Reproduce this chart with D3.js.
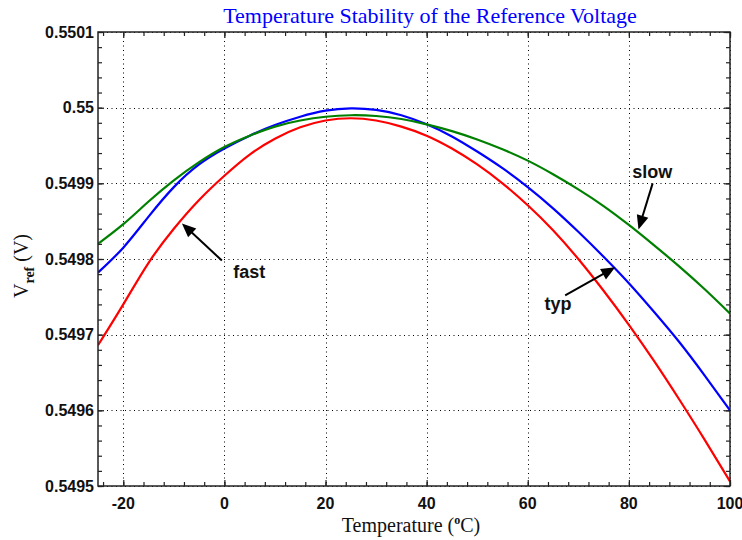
<!DOCTYPE html>
<html><head><meta charset="utf-8">
<script src="https://cdn.jsdelivr.net/npm/d3@7"></script>
<style>
html,body{margin:0;padding:0;background:#fff;}
svg{display:block;}
</style></head>
<body>
<svg id="chart" width="742" height="540"></svg>
<script>
// ---- data ----
const temperatures = [-25,-20,-15,-10,-5,0,5,10,15,20,25,30,35,40,45,50,55,60,65,70,75,80,85,90,95,100];
const fastValues = [0.549686,0.549740,0.549795,0.549840,0.549878,0.549910,0.549938,0.549959,0.549974,0.549983,0.549986,0.549983,0.549975,0.549963,0.549946,0.549925,0.549900,0.549871,0.549838,0.549800,0.549758,0.549713,0.549665,0.549614,0.549561,0.549506];
const typValues  = [0.549782,0.549815,0.549856,0.549895,0.549925,0.549946,0.549963,0.549977,0.549988,0.549996,0.549999,0.549997,0.549990,0.549978,0.549962,0.549942,0.549920,0.549895,0.549867,0.549836,0.549803,0.549768,0.549730,0.549690,0.549646,0.549600];
const slowValues = [0.549820,0.549846,0.549876,0.549904,0.549928,0.549948,0.549963,0.549975,0.549983,0.549988,0.549990,0.549989,0.549985,0.549978,0.549969,0.549958,0.549945,0.549930,0.549912,0.549892,0.549870,0.549845,0.549818,0.549790,0.549760,0.549728];
const seriesNames = ["fast","typ","slow"];
const seriesColors = ["#ff0000","#0000ff","#008000"];
const xTicks = [-20,0,20,40,60,80,100];
const yTicks = [0.5495,0.5496,0.5497,0.5498,0.5499,0.55,0.5501];
const yTickLabels = ["0.5495","0.5496","0.5497","0.5498","0.5499","0.55","0.5501"];
// annotation: label position (temp, V), arrow tail (temp, V), arrow tip (temp, V)
const annotations = [
  {text:"fast", lx:4.9,  ly:0.549775, tx:-0.5, ty:0.549798, hx:-8.4, hy:0.549847},
  {text:"typ",  lx:66.0, ly:0.549733, tx:67.4, ty:0.549752, hx:77.3, hy:0.549789},
  {text:"slow", lx:84.6, ly:0.549907, tx:84.7, ty:0.549900, hx:81.9, hy:0.549839}
];

const svg = d3.select("#chart");
const L = 98, T = 32, R = 730, B = 486;
const x = d3.scaleLinear().domain([-25,100]).range([L,R]);
const y = d3.scaleLinear().domain([0.5495,0.5501]).range([B,T]);

// grid
const grid = svg.append("g").attr("stroke","#000").attr("stroke-width",1).attr("stroke-dasharray","1,3.5");
xTicks.forEach(t=>{ grid.append("line").attr("x1",Math.round(x(t))+0.5).attr("x2",Math.round(x(t))+0.5).attr("y1",T).attr("y2",B); });
yTicks.forEach(t=>{ grid.append("line").attr("y1",Math.round(y(t))+0.5).attr("y2",Math.round(y(t))+0.5).attr("x1",L).attr("x2",R); });

// axes with inward ticks
const xMinor = d3.range(-24,101,4);
const yMinor = d3.range(0,31).map(i=>0.5495+i*0.00002);
const axG = svg.append("g");
function addAxis(axisFn, scale, vals, len, transform){
  const g = axG.append("g").attr("transform",transform)
    .call(axisFn(scale).tickValues(vals).tickSize(len).tickFormat(""));
  g.select(".domain").remove();
  g.selectAll("line").attr("stroke","#222").attr("stroke-width",1.2);
  return g;
}
addAxis(d3.axisTop, x, xMinor, 4, `translate(0,${B})`);
addAxis(d3.axisTop, x, xTicks, 6, `translate(0,${B})`);
addAxis(d3.axisBottom, x, xMinor, 4, `translate(0,${T})`);
addAxis(d3.axisBottom, x, xTicks, 6, `translate(0,${T})`);
addAxis(d3.axisRight, y, yMinor, 4, `translate(${L},0)`);
addAxis(d3.axisRight, y, yTicks, 6, `translate(${L},0)`);
addAxis(d3.axisLeft, y, yMinor, 4, `translate(${R},0)`);
addAxis(d3.axisLeft, y, yTicks, 6, `translate(${R},0)`);

// tick labels
const lab = svg.append("g").attr("font-family","'Liberation Sans',Arial,sans-serif").attr("font-weight","bold").attr("font-size","16px").attr("fill","#111");
xTicks.forEach(t=>{ lab.append("text").attr("x",x(t)).attr("y",509).attr("text-anchor","middle").text(t); });
yTicks.forEach((t,i)=>{ lab.append("text").attr("x",94).attr("y",y(t)).attr("dy","0.36em").attr("text-anchor","end").text(yTickLabels[i]); });

// curves
const line = d3.line().x((d,i)=>x(temperatures[i])).y(d=>y(d)).curve(d3.curveNatural);
svg.append("clipPath").attr("id","clip").append("rect").attr("x",L).attr("y",T).attr("width",R-L).attr("height",B-T);
const curves = svg.append("g").attr("clip-path","url(#clip)");
[fastValues,typValues,slowValues].forEach((vals,k)=>{
  curves.append("path").datum(vals).attr("d",line).attr("fill","none")
    .attr("stroke",seriesColors[k]).attr("stroke-width",2.2);
});

// frame
svg.append("rect").attr("x",L).attr("y",T).attr("width",R-L).attr("height",B-T)
  .attr("fill","none").attr("stroke","#222").attr("stroke-width",1.5);

// annotations
const ann = svg.append("g");
annotations.forEach(a=>{
  const x1=x(a.tx), y1=y(a.ty), x2=x(a.hx), y2=y(a.hy);
  const ang=Math.atan2(y2-y1,x2-x1), hl=14, hw=6;
  const bx=x2-hl*Math.cos(ang), by=y2-hl*Math.sin(ang);
  ann.append("line").attr("x1",x1).attr("y1",y1).attr("x2",bx+2*Math.cos(ang)).attr("y2",by+2*Math.sin(ang)).attr("stroke","#000").attr("stroke-width",2);
  const p=[[x2,y2],[bx+hw*Math.sin(ang),by-hw*Math.cos(ang)],[bx-hw*Math.sin(ang),by+hw*Math.cos(ang)]];
  ann.append("path").attr("d","M"+p.map(q=>q.join(",")).join("L")+"Z").attr("fill","#000");
  ann.append("text").attr("x",x(a.lx)).attr("y",y(a.ly)).attr("text-anchor","middle")
    .attr("font-family","'Liberation Sans',Arial,sans-serif").attr("font-weight","bold").attr("font-size","18px").attr("fill","#111").text(a.text);
});

// title & axis labels
svg.append("text").attr("x",430).attr("y",23).attr("text-anchor","middle")
  .attr("font-family","'Liberation Serif','Times New Roman',serif").attr("font-size","22px").attr("fill","#0000ff")
  .text("Temperature Stability of the Reference Voltage");
const xl = svg.append("text").attr("x",411).attr("y",532).attr("text-anchor","middle")
  .attr("font-family","'Liberation Serif','Times New Roman',serif").attr("font-size","20px").attr("fill","#111");
xl.append("tspan").text("Temperature (");
xl.append("tspan").attr("font-size","12px").attr("dy","-8").attr("font-weight","bold").text("o");
xl.append("tspan").attr("dy","8").text("C)");
const yl = svg.append("text").attr("transform","translate(28,266) rotate(-90)").attr("text-anchor","middle")
  .attr("font-family","'Liberation Serif','Times New Roman',serif").attr("font-size","20px").attr("fill","#111");
yl.append("tspan").text("V");
yl.append("tspan").attr("font-size","14px").attr("font-weight","bold").attr("dy","6").text("ref");
yl.append("tspan").attr("dy","-6").text(" (V)");
</script>
</body></html>
